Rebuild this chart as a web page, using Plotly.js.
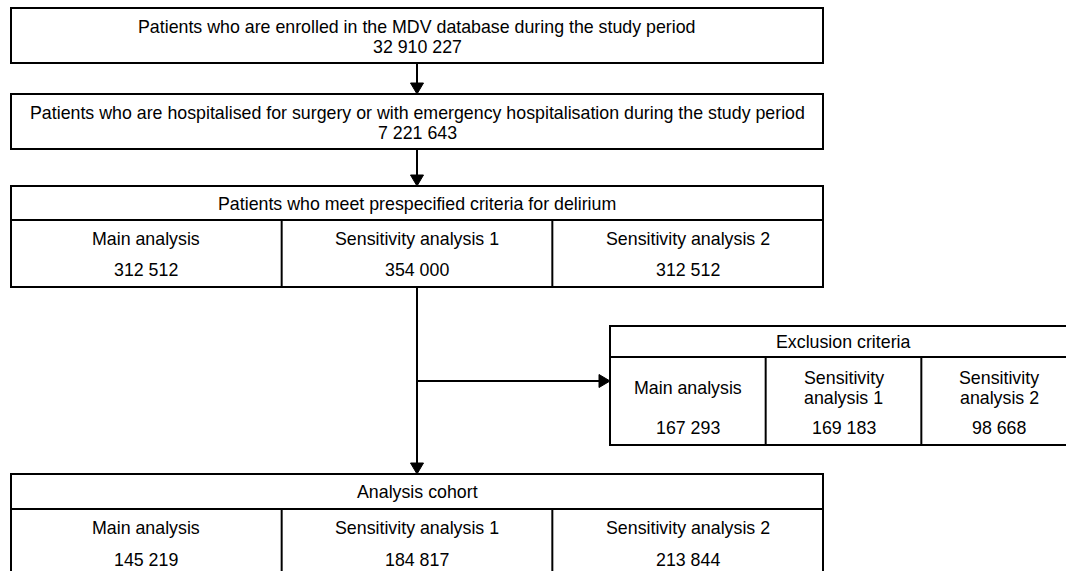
<!DOCTYPE html>
<html>
<head>
<meta charset="utf-8">
<script src="https://cdn.plot.ly/plotly-3.0.1.min.js"></script>
<style>html,body{margin:0;padding:0;background:#fff;}#chart{width:1066px;height:571px;}</style>
</head>
<body>
<div id="chart"></div>
<script>
// ---- data ----
const stepLabels = [
  "Patients who are enrolled in the MDV database during the study period",
  "Patients who are hospitalised for surgery or with emergency hospitalisation during the study period"
];
const stepCounts = [32910227, 7221643];
const groups = ["Main analysis", "Sensitivity analysis 1", "Sensitivity analysis 2"];
const deliriumTitle = "Patients who meet prespecified criteria for delirium";
const deliriumCounts = [312512, 354000, 312512];
const exclusionTitle = "Exclusion criteria";
const exclusionCounts = [167293, 169183, 98668];
const cohortTitle = "Analysis cohort";
const cohortCounts = [145219, 184817, 213844];

// ---- helpers ----
function fmt(n) { return String(n).replace(/\B(?=(\d{3})+(?!\d))/g, " "); }
const FONT = {family: "'Liberation Sans', Arial, Helvetica, sans-serif", size: 17.8, color: "#000"};
const LW = 2, LC = "#000";
const shapes = [];
const annotations = [];
function line(x0, y0, x1, y1) {
  shapes.push({type: "line", xref: "x", yref: "y", x0, y0, x1, y1, line: {color: LC, width: LW}});
}
function rect(x0, y0, x1, y1) {
  shapes.push({type: "rect", xref: "x", yref: "y", x0, y0, x1, y1, line: {color: LC, width: LW}, fillcolor: "rgba(0,0,0,0)"});
}
function head(tx, ty, dir) {
  const L = 11, H = 6.5;
  let p;
  if (dir === "down") p = `M ${tx} ${ty} L ${tx - H} ${ty - L} L ${tx + H} ${ty - L} Z`;
  else p = `M ${tx} ${ty} L ${tx - L} ${ty - H} L ${tx - L} ${ty + H} Z`;
  shapes.push({type: "path", xref: "x", yref: "y", path: p, fillcolor: LC, line: {color: LC, width: 1}});
}
function text(t, x, y) {
  annotations.push({text: t, x, y, xref: "x", yref: "y", xanchor: "center", yanchor: "middle", showarrow: false, font: FONT});
}

// ---- layout geometry ----
const L0 = 11, R0 = 823, CX = 417;
const stepBoxes = [[8, 63], [94, 149]];
stepBoxes.forEach((b, i) => {
  rect(L0, b[0], R0, b[1]);
  text(stepLabels[i], CX, b[0] + 19);
  text(fmt(stepCounts[i]), CX, b[0] + 39);
});

function tableBox(x0, x1, top, hdrBot, bot, title, labels, counts, opts) {
  rect(x0, top, x1, bot);
  line(x0, hdrBot, x1, hdrBot);
  const w = (x1 - x0) / 3;
  for (let i = 1; i < 3; i++) line(x0 + w * i, hdrBot, x0 + w * i, bot);
  text(title, (x0 + x1) / 2, (top + hdrBot) / 2 + 0.5);
  labels.forEach((lab, i) => {
    const cx = x0 + w * (i + 0.5);
    const words = lab.split(" ");
    if (opts.wrap && words.length > 2) {
      text(words[0], cx, hdrBot + opts.labY - 10);
      text(words.slice(1).join(" "), cx, hdrBot + opts.labY + 10);
    } else {
      text(lab, cx, hdrBot + opts.labY);
    }
    text(fmt(counts[i]), cx, hdrBot + opts.numY);
  });
}
tableBox(L0, R0, 186, 220, 287, deliriumTitle, groups, deliriumCounts, {labY: 18.5, numY: 50});
tableBox(610, 1077, 326, 357, 445, exclusionTitle, groups, exclusionCounts, {labY: 30.5, numY: 71, wrap: true});
tableBox(L0, R0, 474, 509, 620, cohortTitle, groups, cohortCounts, {labY: 18.5, numY: 50.5});

// arrows
line(CX, 63, CX, 86); head(CX, 94, "down");
line(CX, 149, CX, 178); head(CX, 186, "down");
line(CX, 287, CX, 466); head(CX, 474, "down");
line(CX, 381, 602, 381); head(610, 381, "right");

const layout = {
  width: 1066, height: 571,
  margin: {l: 0, r: 0, t: 0, b: 0, pad: 0},
  paper_bgcolor: "#fff", plot_bgcolor: "#fff",
  xaxis: {range: [0, 1066], visible: false, fixedrange: true},
  yaxis: {range: [571, 0], visible: false, fixedrange: true},
  showlegend: false,
  shapes, annotations
};
Plotly.newPlot("chart", [], layout, {displayModeBar: false, staticPlot: true});
</script>
</body>
</html>
